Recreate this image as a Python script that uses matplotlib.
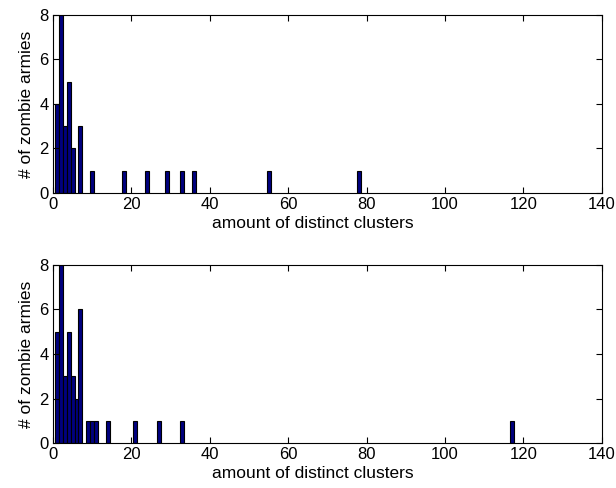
import matplotlib
matplotlib.use("Agg")
import matplotlib.pyplot as plt

plt.rcParams['font.family'] = ['Liberation Sans', 'DejaVu Sans']

top_values = [1, 2, 3, 4, 5, 7, 10, 18, 24, 29, 33, 36, 55, 78]
top_counts = [4, 8, 3, 5, 2, 3, 1, 1, 1, 1, 1, 1, 1, 1]
bot_values = [1, 2, 3, 4, 5, 6, 7, 9, 10, 11, 14, 21, 27, 33, 117]
bot_counts = [5, 8, 3, 5, 3, 2, 6, 1, 1, 1, 1, 1, 1, 1, 1]
xticks = [0, 20, 40, 60, 80, 100, 120, 140]
yticks = [0, 2, 4, 6, 8]
xlabel = "amount of distinct clusters"
ylabel = "# of zombie armies"

fig = plt.figure(figsize=(6.16, 4.88), dpi=100)
ax1 = fig.add_axes([0.086, 0.6045, 0.891, 0.3648])
ax2 = fig.add_axes([0.086, 0.0922, 0.891, 0.3648])

for ax, v, c in [(ax1, top_values, top_counts), (ax2, bot_values, bot_counts)]:
    ax.bar(v, c, width=1.0, color='#000080', edgecolor='black', linewidth=0.8)
    ax.set_xlim(0, 140)
    ax.set_ylim(0, 8)
    ax.set_xticks(xticks)
    ax.set_yticks(yticks)
    ax.tick_params(direction='in', top=True, right=True, labelsize=12, length=4, pad=3)
    ax.set_xlabel(xlabel, fontsize=12.5)
    ax.set_ylabel(ylabel, fontsize=12.5, labelpad=4)
    ax.xaxis.set_label_coords(0.474, -0.13, transform=ax.transAxes)
    for s in ax.spines.values():
        s.set_linewidth(0.8)

fig.savefig("out.png", dpi=100)
